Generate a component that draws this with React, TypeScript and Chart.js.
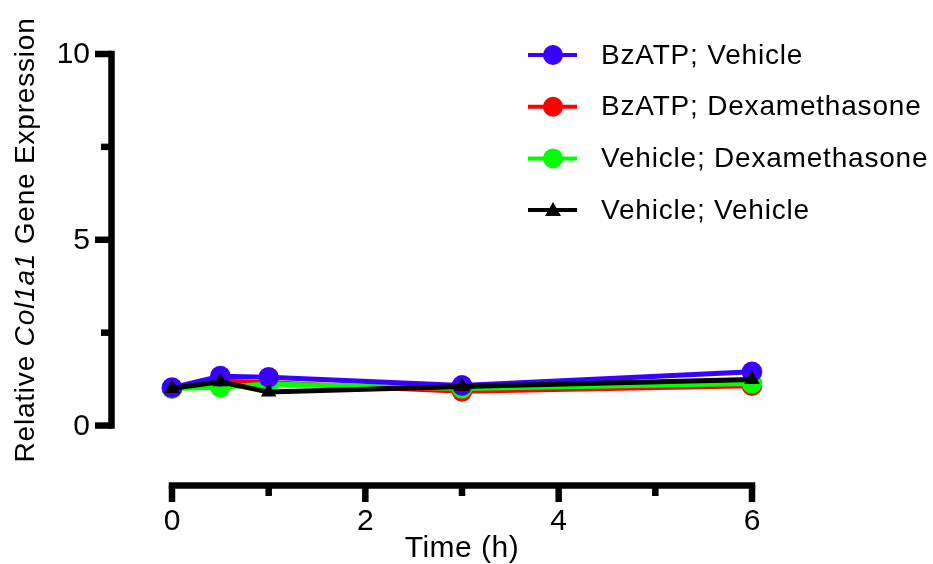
import React, { useEffect, useRef } from "react";
import { Chart, registerables } from "chart.js";

Chart.register(...registerables);

const times = [0, 0.5, 1, 3, 6];
const seriesLabels = ["BzATP; Vehicle", "BzATP; Dexamethasone", "Vehicle; Dexamethasone", "Vehicle; Vehicle"];
const bzatpVehicle = [1.02, 1.33, 1.3, 1.08, 1.45];
const bzatpDexa = [1.0, 1.2, 1.15, 0.92, 1.07];
const vehicleDexa = [1.0, 1.03, 1.12, 1.0, 1.13];
const vehicleVehicle = [1.0, 1.18, 0.9, 1.05, 1.24];
const seriesColors = ["#3a00ff", "#ff0000", "#00ff00", "#000000"];
const seriesMarkers = ["circle", "circle", "circle", "triangle"];

const yMajorTicks = [0, 5, 10];
const yMinorTicks = [2.5, 7.5];
const xMajorTicks = [0, 2, 4, 6];
const xMinorTicks = [1, 3, 5];
const xTitle = "Time (h)";
const yTitleParts = [
  { text: "Relative ", italic: false },
  { text: "Col1a1", italic: true },
  { text: " Gene Expression", italic: false },
];

const FONT = "'Liberation Sans', Arial, Helvetica, sans-serif";

const axesPlugin = {
  id: "customAxes",
  afterDraw(chart: any) {
    const ctx = chart.ctx as CanvasRenderingContext2D;
    const xs = chart.scales.x;
    const ys = chart.scales.y;
    ctx.save();
    ctx.strokeStyle = "#000";
    ctx.fillStyle = "#000";
    ctx.lineCap = "butt";

    const AW = 6.5;
    // Y axis
    const yAxisX = 111.5;
    const y0 = ys.getPixelForValue(0);
    const y10 = ys.getPixelForValue(10);
    ctx.lineWidth = AW;
    ctx.beginPath();
    ctx.moveTo(yAxisX, y10 - AW / 2);
    ctx.lineTo(yAxisX, y0 + AW / 2);
    ctx.stroke();
    ctx.font = `30px ${FONT}`;
    ctx.textAlign = "right";
    ctx.textBaseline = "middle";
    for (const v of yMajorTicks) {
      const p = ys.getPixelForValue(v);
      ctx.beginPath();
      ctx.moveTo(95, p);
      ctx.lineTo(yAxisX, p);
      ctx.stroke();
      ctx.fillText(String(v), 90, p + 1);
    }
    for (const v of yMinorTicks) {
      const p = ys.getPixelForValue(v);
      ctx.beginPath();
      ctx.moveTo(101, p);
      ctx.lineTo(yAxisX, p);
      ctx.stroke();
    }

    // X axis
    const xAxisY = 485.5;
    const x0 = xs.getPixelForValue(0);
    const x6 = xs.getPixelForValue(6);
    ctx.beginPath();
    ctx.moveTo(x0 - AW / 2, xAxisY);
    ctx.lineTo(x6 + AW / 2, xAxisY);
    ctx.stroke();
    ctx.textAlign = "center";
    for (const v of xMajorTicks) {
      const p = xs.getPixelForValue(v);
      ctx.beginPath();
      ctx.moveTo(p, xAxisY);
      ctx.lineTo(p, 502);
      ctx.stroke();
      ctx.fillText(String(v), p, 522);
    }
    for (const v of xMinorTicks) {
      const p = xs.getPixelForValue(v);
      ctx.beginPath();
      ctx.moveTo(p, xAxisY);
      ctx.lineTo(p, 496);
      ctx.stroke();
    }
    (ctx as any).letterSpacing = "0.5px";
    ctx.font = `30px ${FONT}`;
    ctx.fillText(xTitle, xs.getPixelForValue(3), 549);

    // Y title (rotated, mixed styles)
    (ctx as any).letterSpacing = "0.8px";
    ctx.save();
    ctx.translate(26, 240);
    ctx.rotate(-Math.PI / 2);
    let total = 0;
    const widths: number[] = [];
    for (const part of yTitleParts) {
      ctx.font = `${part.italic ? "italic " : ""}28px ${FONT}`;
      const w = ctx.measureText(part.text).width;
      widths.push(w);
      total += w;
    }
    let cx = -total / 2;
    ctx.textAlign = "left";
    yTitleParts.forEach((part, i) => {
      ctx.font = `${part.italic ? "italic " : ""}28px ${FONT}`;
      ctx.fillText(part.text, cx, 0);
      cx += widths[i];
    });
    ctx.restore();

    // Legend
    const ds = chart.data.datasets;
    ctx.textAlign = "left";
    ctx.font = `28px ${FONT}`;
    for (let i = 0; i < ds.length; i++) {
      const ly = 55 + i * 51.7;
      const col = ds[i].borderColor;
      ctx.strokeStyle = col;
      ctx.fillStyle = col;
      ctx.lineWidth = 4;
      ctx.beginPath();
      ctx.moveTo(528, ly);
      ctx.lineTo(577, ly);
      ctx.stroke();
      if (ds[i].pointStyle === "triangle") {
        ctx.beginPath();
        ctx.moveTo(553, ly - 8);
        ctx.lineTo(561, ly + 6);
        ctx.lineTo(545, ly + 6);
        ctx.closePath();
        ctx.fill();
      } else {
        ctx.beginPath();
        ctx.arc(553, ly, 10, 0, Math.PI * 2);
        ctx.fill();
      }
      ctx.fillStyle = "#000";
      ctx.fillText(ds[i].label, 601, ly + 1);
    }
    ctx.restore();
  },
};

export default function App() {
  const ref = useRef<HTMLCanvasElement | null>(null);
  useEffect(() => {
    if (!ref.current) return;
    const allData = [bzatpVehicle, bzatpDexa, vehicleDexa, vehicleVehicle];
    const orders = [1, 3, 2, 0];
    const datasets = allData.map((vals, i) => ({
      label: seriesLabels[i],
      data: times.map((t, j) => ({ x: t, y: vals[j] })),
      borderColor: seriesColors[i],
      backgroundColor: seriesColors[i],
      pointStyle: seriesMarkers[i],
      pointRadius: seriesMarkers[i] === "triangle" ? 9 : 10.3,
      pointBorderWidth: 0,
      borderWidth: 5,
      tension: 0,
      clip: false as any,
      order: orders[i],
    }));
    const chart = new Chart(ref.current, {
      type: "line",
      data: { datasets },
      options: {
        animation: false,
        responsive: false,
        layout: { padding: { left: 114, right: 181, top: 54, bottom: 79 } },
        plugins: { legend: { display: false }, tooltip: { enabled: false } },
        scales: {
          x: { type: "linear", min: -0.6, max: 6, display: false },
          y: { type: "linear", min: -1.6, max: 10, display: false },
        },
      },
      plugins: [axesPlugin],
    });
    return () => chart.destroy();
  }, []);
  return (
    <div style={{ position: "fixed", left: 0, top: 0, width: 933, height: 564, background: "#fff" }}>
      <canvas ref={ref} width={933} height={564} />
    </div>
  );
}
